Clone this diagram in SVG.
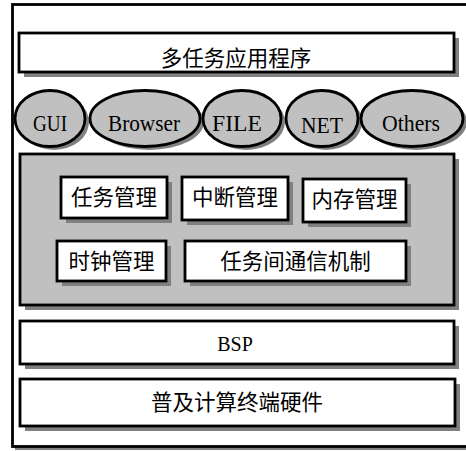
<svg xmlns="http://www.w3.org/2000/svg" width="466" height="451" viewBox="0 0 466 451">
<style>
.box{fill:#fff;stroke:#000;stroke-width:2.8}
.gbox{fill:#c0c0c0;stroke:#000;stroke-width:2.8}
.sh{fill:#808080;stroke:none}
.cj{font-family:"Noto Sans CJK SC","Noto Sans",sans-serif;font-size:21.5px;fill:#000;text-anchor:middle}
.en{font-family:"Liberation Serif","Times New Roman",serif;font-size:24px;fill:#000;text-anchor:middle}
.bsp{font-family:"Liberation Serif","Times New Roman",serif;font-size:20px;fill:#000;text-anchor:middle}
</style>
<rect width="466" height="451" fill="#fff"/>
<g id="frame">
<rect class="sh" x="15" y="7" width="460" height="443"/>
<rect x="12.5" y="4.5" width="460" height="442" fill="#fff" stroke="#000" stroke-width="2.8"/>
</g>
<g id="apps">
<rect class="sh" x="24" y="38" width="435" height="39"/>
<rect class="box" x="19" y="33" width="435" height="39"/>
<text class="cj" x="236" y="66">多任务应用程序</text>
</g>
<g id="gui">
<ellipse class="sh" cx="54" cy="122" rx="35" ry="28"/>
<ellipse class="gbox" cx="50" cy="118.5" rx="35" ry="28"/>
<text class="en" x="50" y="131" textLength="34" lengthAdjust="spacingAndGlyphs">GUI</text>
</g>
<g id="browser">
<ellipse class="sh" cx="149" cy="122" rx="55" ry="28"/>
<ellipse class="gbox" cx="145" cy="118.5" rx="55" ry="28"/>
<text class="en" x="144" y="131" textLength="72" lengthAdjust="spacingAndGlyphs">Browser</text>
</g>
<g id="file">
<ellipse class="sh" cx="246" cy="122" rx="39" ry="28"/>
<ellipse class="gbox" cx="242" cy="118.5" rx="39" ry="28"/>
<text class="en" x="237" y="131" textLength="50" lengthAdjust="spacingAndGlyphs">FILE</text>
</g>
<g id="net">
<ellipse class="sh" cx="326" cy="122" rx="36" ry="28"/>
<ellipse class="gbox" cx="322" cy="118.5" rx="36" ry="28"/>
<text class="en" x="322" y="133" textLength="42" lengthAdjust="spacingAndGlyphs">NET</text>
</g>
<g id="others">
<ellipse class="sh" cx="416" cy="122" rx="51" ry="28"/>
<ellipse class="gbox" cx="412" cy="118.5" rx="51" ry="28"/>
<text class="en" x="411" y="131" textLength="58" lengthAdjust="spacingAndGlyphs">Others</text>
</g>
<g id="kernel">
<rect class="sh" x="25" y="159" width="434" height="151"/>
<rect class="gbox" x="20" y="154" width="434" height="151"/>
</g>
<g id="task">
<rect class="sh" x="66" y="182" width="106" height="41"/>
<rect class="box" x="61" y="177" width="106" height="41"/>
<text class="cj" x="114" y="205">任务管理</text>
</g>
<g id="interrupt">
<rect class="sh" x="187" y="182" width="106" height="43"/>
<rect class="box" x="182" y="177" width="106" height="43"/>
<text class="cj" x="235" y="205">中断管理</text>
</g>
<g id="memory">
<rect class="sh" x="308" y="184" width="103" height="43"/>
<rect class="box" x="303" y="179" width="103" height="43"/>
<text class="cj" x="354.5" y="207">内存管理</text>
</g>
<g id="clock">
<rect class="sh" x="62" y="246" width="109" height="40"/>
<rect class="box" x="57" y="241" width="109" height="40"/>
<text class="cj" x="111.5" y="269">时钟管理</text>
</g>
<g id="ipc">
<rect class="sh" x="190" y="246" width="221" height="40"/>
<rect class="box" x="185" y="241" width="221" height="40"/>
<text class="cj" x="295.5" y="269">任务间通信机制</text>
</g>
<g id="bsp">
<rect class="sh" x="25" y="326" width="434" height="43"/>
<rect class="box" x="20" y="321" width="434" height="43"/>
<text class="bsp" x="235" y="351">BSP</text>
</g>
<g id="hardware">
<rect class="sh" x="25" y="384" width="435" height="47"/>
<rect class="box" x="20" y="379" width="435" height="47"/>
<text class="cj" x="237" y="410">普及计算终端硬件</text>
</g>
<g id="connectors"/>
</svg>
